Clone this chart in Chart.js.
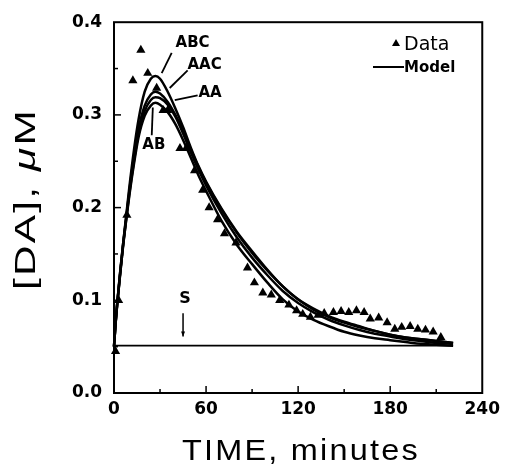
<!DOCTYPE html>
<html>
<head>
<meta charset="utf-8">
<script src="https://cdn.jsdelivr.net/npm/chart.js@4.4.1/dist/chart.umd.min.js"></script>
<style>
  html, body { margin: 0; padding: 0; background: #fff; }
</style>
</head>
<body>
<canvas id="myChart" width="506" height="466"></canvas>
<script>
// measured DA concentration (triangles)
const dataTime = [1, 3, 8.4, 12.3, 17.5, 22, 27.8, 32, 35, 43, 47, 52.5, 57.8, 62, 67.5, 72, 79.5, 87, 91.5, 97,
  102.5, 108, 114, 119, 123, 128, 133, 137, 143, 148, 153, 158, 163, 167, 172.5, 178, 183, 187.5, 193, 198, 203, 208, 213];
const dataConc = [0.045, 0.10, 0.192, 0.337, 0.370, 0.345, 0.329, 0.305, 0.305, 0.264, 0.264, 0.240, 0.219, 0.200, 0.187, 0.172, 0.162, 0.135, 0.119, 0.108,
  0.106, 0.100, 0.095, 0.089, 0.085, 0.082, 0.084, 0.086, 0.087, 0.088, 0.087, 0.089, 0.087, 0.080, 0.081, 0.076, 0.069, 0.071, 0.072, 0.069, 0.068, 0.066, 0.060];

// model curves
const modelTime = [0, 1, 2, 4, 6, 8, 10, 13, 16, 20, 24, 27, 30, 35, 40, 45, 50, 55, 60, 70, 80, 90, 100, 110, 120, 130, 140, 150, 160, 170, 180, 190, 200, 210, 221];
const modelABC = [0.05, 0.075, 0.095, 0.13, 0.162, 0.192, 0.222, 0.262, 0.295, 0.325, 0.339, 0.342, 0.339, 0.325, 0.307, 0.287, 0.265, 0.245, 0.228, 0.199, 0.174, 0.153, 0.133, 0.115, 0.101, 0.090, 0.082, 0.076, 0.071, 0.067, 0.063, 0.060, 0.058, 0.056, 0.054];
const modelAAC = [0.05, 0.075, 0.095, 0.13, 0.162, 0.19, 0.218, 0.255, 0.285, 0.31, 0.322, 0.325, 0.323, 0.314, 0.300, 0.283, 0.263, 0.244, 0.227, 0.198, 0.173, 0.151, 0.132, 0.115, 0.101, 0.091, 0.083, 0.077, 0.072, 0.067, 0.063, 0.060, 0.058, 0.056, 0.054];
const modelAA = [0.05, 0.074, 0.094, 0.128, 0.16, 0.188, 0.215, 0.25, 0.28, 0.304, 0.316, 0.319, 0.318, 0.311, 0.298, 0.280, 0.260, 0.241, 0.224, 0.194, 0.168, 0.146, 0.127, 0.110, 0.097, 0.087, 0.079, 0.073, 0.068, 0.064, 0.061, 0.058, 0.056, 0.054, 0.053];
const modelAB = [0.05, 0.074, 0.094, 0.128, 0.16, 0.187, 0.213, 0.247, 0.276, 0.299, 0.31, 0.313, 0.311, 0.303, 0.290, 0.273, 0.254, 0.235, 0.218, 0.186, 0.160, 0.139, 0.119, 0.101, 0.088, 0.079, 0.072, 0.066, 0.062, 0.059, 0.057, 0.055, 0.053, 0.052, 0.051];

// baseline level
const baseTime = [0, 221];
const baseConc = [0.051, 0.051];

// stimulus mark
const stimTime = 45;

const xTicks = [0, 60, 120, 180, 240];
const yTicks = [0.0, 0.1, 0.2, 0.3, 0.4];

const ink = '#000';
const pts = (xs, ys) => xs.map((v, i) => ({ x: v, y: ys[i] }));

function modelSet(label, values) {
  return {
    label: label,
    data: pts(modelTime, values),
    showLine: true,
    borderColor: ink,
    borderWidth: 2.5,
    pointRadius: 0,
    cubicInterpolationMode: 'monotone',
    clip: false
  };
}

function line(ctx, x1, y1, x2, y2) {
  ctx.beginPath();
  ctx.moveTo(x1, y1);
  ctx.lineTo(x2, y2);
  ctx.stroke();
}

// curve annotations, in data units
const curveNames = ['ABC', 'AAC', 'AA', 'AB'];
const nameAt = [[51.2, 0.377], [59, 0.354], [62.6, 0.323], [26, 0.267]];
const leadFrom = [[37.6, 0.367], [48, 0.348], [54.5, 0.321], [24.6, 0.278]];
const leadTo = [[31.1, 0.345], [36.3, 0.329], [39.6, 0.316], [25.3, 0.308]];

function wideText(ctx, parts, cx, cy, width, spacing) {
  // draws text centred on cx, letter-spaced and stretched to the given width
  ctx.save();
  ctx.letterSpacing = spacing + 'px';
  let w = 0;
  parts.forEach(p => { ctx.font = p.font; w += ctx.measureText(p.text).width; });
  const k = width / w;
  ctx.translate(cx, cy);
  ctx.scale(k, 1);
  let xpos = -w / 2;
  ctx.textAlign = 'left';
  ctx.textBaseline = 'alphabetic';
  parts.forEach(p => {
    ctx.font = p.font;
    ctx.fillText(p.text, xpos, 0);
    xpos += ctx.measureText(p.text).width;
  });
  ctx.restore();
}

const decor = {
  id: 'decor',
  afterDraw(chart) {
    const { ctx, chartArea: a, scales } = chart;
    const sx = scales.x, sy = scales.y;
    ctx.save();
    ctx.strokeStyle = ink;
    ctx.fillStyle = ink;

    // frame
    ctx.lineWidth = 2;
    ctx.strokeRect(a.left, a.top, a.right - a.left, a.bottom - a.top);

    // inward ticks, minor every half step
    ctx.lineWidth = 1.5;
    for (let v = 30; v < 240; v += 30) {
      const px = sx.getPixelForValue(v);
      line(ctx, px, a.bottom, px, a.bottom - (v % 60 === 0 ? 7 : 4));
    }
    for (let i = 1; i < 8; i++) {
      const py = sy.getPixelForValue(i * 0.05);
      line(ctx, a.left, py, a.left + (i % 2 === 0 ? 7 : 4), py);
    }

    // curve names with leader lines
    ctx.font = 'bold 15px "DejaVu Sans"';
    ctx.textAlign = 'center';
    ctx.textBaseline = 'middle';
    ctx.lineWidth = 1.8;
    curveNames.forEach((n, i) => {
      ctx.fillText(n, sx.getPixelForValue(nameAt[i][0]), sy.getPixelForValue(nameAt[i][1]));
      line(ctx, sx.getPixelForValue(leadFrom[i][0]), sy.getPixelForValue(leadFrom[i][1]),
        sx.getPixelForValue(leadTo[i][0]), sy.getPixelForValue(leadTo[i][1]));
    });

    // S arrow
    const sxp = sx.getPixelForValue(stimTime);
    ctx.font = 'bold 16px "DejaVu Sans"';
    ctx.fillText('S', sxp + 2, sy.getPixelForValue(0.102));
    ctx.lineWidth = 1.5;
    const yTop = sy.getPixelForValue(0.086), yBot = sy.getPixelForValue(0.061);
    line(ctx, sxp, yTop, sxp, yBot);
    ctx.beginPath();
    ctx.moveTo(sxp - 2, yBot - 5);
    ctx.lineTo(sxp + 2, yBot - 5);
    ctx.lineTo(sxp, yBot);
    ctx.closePath();
    ctx.fill();

    // legend
    ctx.beginPath();
    ctx.moveTo(392, 46);
    ctx.lineTo(400, 46);
    ctx.lineTo(396, 39);
    ctx.closePath();
    ctx.fill();
    ctx.textAlign = 'left';
    ctx.textBaseline = 'alphabetic';
    ctx.font = '19px "DejaVu Sans"';
    ctx.fillText('Data', 404, 50);
    ctx.lineWidth = 2;
    line(ctx, 373, 67, 404, 67);
    ctx.font = 'bold 15px "DejaVu Sans"';
    ctx.fillText('Model', 404, 72);

    // axis titles
    wideText(ctx, [{ text: 'TIME, minutes', font: '29px "Liberation Sans"' }], 301, 460, 238, 2);
    ctx.save();
    ctx.translate(35, 199);
    ctx.rotate(-Math.PI / 2);
    wideText(ctx, [
      { text: '[DA], ', font: '29px "Liberation Sans"' },
      { text: 'μ', font: 'italic 29px "Liberation Sans"' },
      { text: 'M', font: '29px "Liberation Sans"' }
    ], 0, 0, 182, 1.5);
    ctx.restore();

    ctx.restore();
  }
};

const tickFont = { family: 'DejaVu Sans', size: 17, weight: 'bold' };

new Chart(document.getElementById('myChart'), {
  type: 'scatter',
  data: {
    datasets: [
      {
        label: 'Data',
        data: pts(dataTime, dataConc),
        pointStyle: 'triangle',
        pointRadius: 5.3,
        pointBackgroundColor: ink,
        pointBorderColor: ink,
        pointBorderWidth: 0,
        showLine: false,
        clip: false
      },
      modelSet('ABC', modelABC),
      modelSet('AAC', modelAAC),
      modelSet('AA', modelAA),
      modelSet('AB', modelAB),
      {
        label: 'baseline',
        data: pts(baseTime, baseConc),
        showLine: true,
        borderColor: ink,
        borderWidth: 1.8,
        pointRadius: 0,
        clip: false
      }
    ]
  },
  options: {
    responsive: false,
    animation: false,
    events: [],
    layout: { padding: { top: 22, right: 22, left: 0, bottom: 0 } },
    plugins: {
      legend: { display: false },
      tooltip: { enabled: false }
    },
    scales: {
      x: {
        type: 'linear',
        min: 0,
        max: 240,
        grid: { display: false, drawTicks: false },
        border: { display: false },
        afterBuildTicks: s => { s.ticks = xTicks.map(v => ({ value: v })); },
        afterFit: s => { s.height = 73; },
        ticks: { color: ink, font: tickFont, padding: 6, maxRotation: 0, callback: v => String(v) }
      },
      y: {
        type: 'linear',
        min: 0,
        max: 0.4,
        grid: { display: false, drawTicks: false },
        border: { display: false },
        afterBuildTicks: s => { s.ticks = yTicks.map(v => ({ value: v })); },
        afterFit: s => { s.width = 114; },
        ticks: { color: ink, font: tickFont, padding: 12, callback: v => v.toFixed(1) }
      }
    }
  },
  plugins: [decor]
});
</script>
</body>
</html>
